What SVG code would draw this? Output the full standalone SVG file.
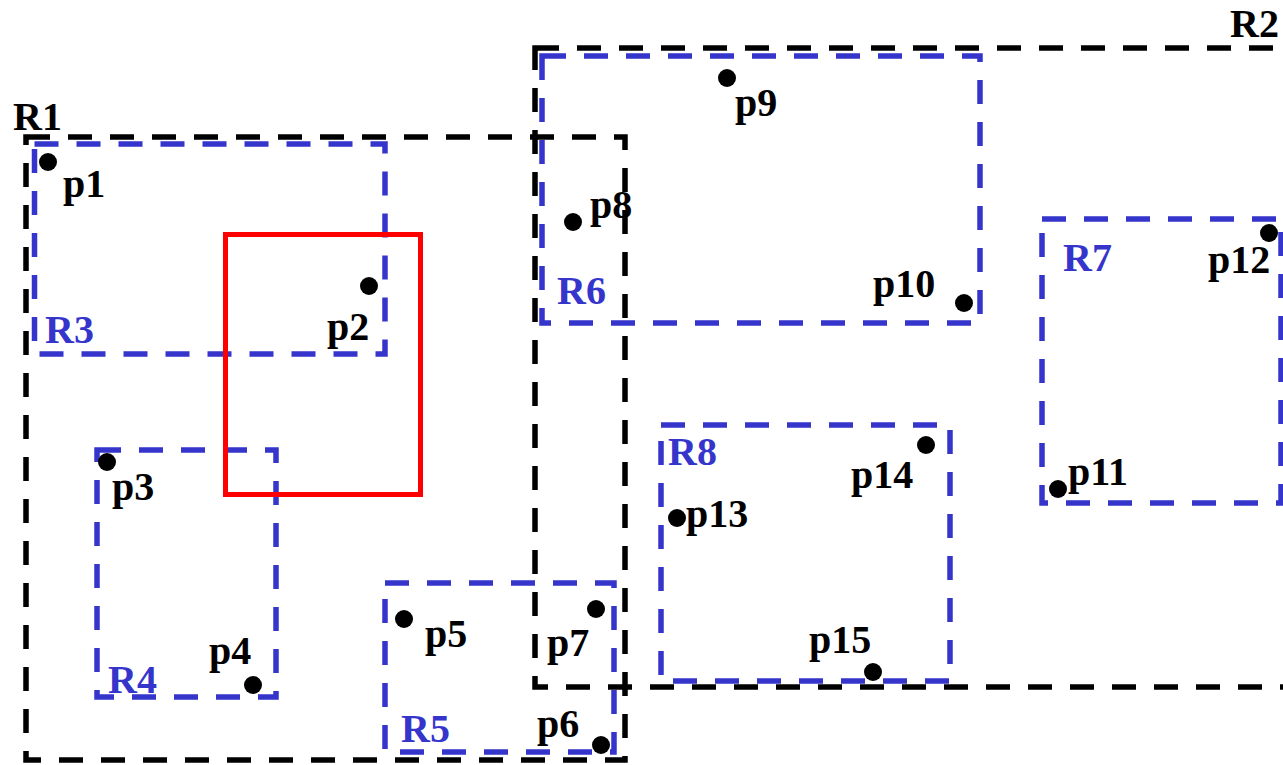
<svg xmlns="http://www.w3.org/2000/svg" width="1283" height="765" viewBox="0 0 1283 765">
<style>
.bk{fill:none;stroke:#000;stroke-width:5.5;stroke-dasharray:24 18}
.bl{fill:none;stroke:#3535CC;stroke-width:5.5;stroke-dasharray:24 18}
.q{fill:none;stroke:#FF0000;stroke-width:5}
.pt{fill:#000}
.t{font-family:"Liberation Serif","Times New Roman",serif;font-weight:bold;font-size:40px}
.tk{fill:#000}
.tb{fill:#3535CC}
</style>
<rect width="1283" height="765" fill="#fff"/>
<g id="R1"><rect class="bk" x="26" y="137" width="599" height="623"/><text class="t tk" x="13" y="130">R1</text></g>
<g id="R2"><rect class="bk" x="535" y="48" width="800" height="639"/><text class="t tk" x="1230" y="37">R2</text></g>
<g id="R3"><rect class="bl" x="34.5" y="144" width="350.5" height="210"/><text class="t tb" x="45" y="343">R3</text></g>
<g id="R4"><rect class="bl" x="97" y="450" width="179" height="247"/><text class="t tb" x="108" y="693">R4</text></g>
<g id="R5"><rect class="bl" x="385" y="583" width="229" height="169"/><text class="t tb" x="401" y="742">R5</text></g>
<g id="R6"><rect class="bl" x="542" y="56" width="438" height="267"/><text class="t tb" x="557" y="304">R6</text></g>
<g id="R7"><rect class="bl" x="1042" y="219" width="239" height="284"/><text class="t tb" x="1063" y="271">R7</text></g>
<g id="R8"><rect class="bl" x="661" y="425" width="289" height="256"/><text class="t tb" x="668" y="465">R8</text></g>
<g id="query"><rect class="q" x="225.5" y="234.5" width="195" height="260"/></g>
<g id="p1"><circle class="pt" cx="48" cy="162" r="9"/><text class="t tk" x="63" y="197">p1</text></g>
<g id="p2"><circle class="pt" cx="369" cy="286" r="9"/><text class="t tk" x="327" y="340">p2</text></g>
<g id="p3"><circle class="pt" cx="107" cy="462" r="9"/><text class="t tk" x="112" y="500">p3</text></g>
<g id="p4"><circle class="pt" cx="253" cy="685" r="9"/><text class="t tk" x="209" y="664">p4</text></g>
<g id="p5"><circle class="pt" cx="404" cy="619" r="9"/><text class="t tk" x="425" y="647">p5</text></g>
<g id="p6"><circle class="pt" cx="601" cy="745" r="9"/><text class="t tk" x="537" y="737">p6</text></g>
<g id="p7"><circle class="pt" cx="596" cy="609" r="9"/><text class="t tk" x="547" y="656">p7</text></g>
<g id="p8"><circle class="pt" cx="573" cy="222" r="9"/><text class="t tk" x="590" y="218">p8</text></g>
<g id="p9"><circle class="pt" cx="727" cy="78" r="9"/><text class="t tk" x="735" y="116">p9</text></g>
<g id="p10"><circle class="pt" cx="964" cy="303" r="9"/><text class="t tk" x="873" y="297">p10</text></g>
<g id="p11"><circle class="pt" cx="1058" cy="489" r="9"/><text class="t tk" x="1068" y="485">p11</text></g>
<g id="p12"><circle class="pt" cx="1269" cy="233" r="9"/><text class="t tk" x="1208" y="273">p12</text></g>
<g id="p13"><circle class="pt" cx="677" cy="518" r="9"/><text class="t tk" x="686" y="527">p13</text></g>
<g id="p14"><circle class="pt" cx="926" cy="445" r="9"/><text class="t tk" x="851" y="488">p14</text></g>
<g id="p15"><circle class="pt" cx="873" cy="672" r="9"/><text class="t tk" x="809" y="653">p15</text></g>
<g id="connectors"/>
</svg>
